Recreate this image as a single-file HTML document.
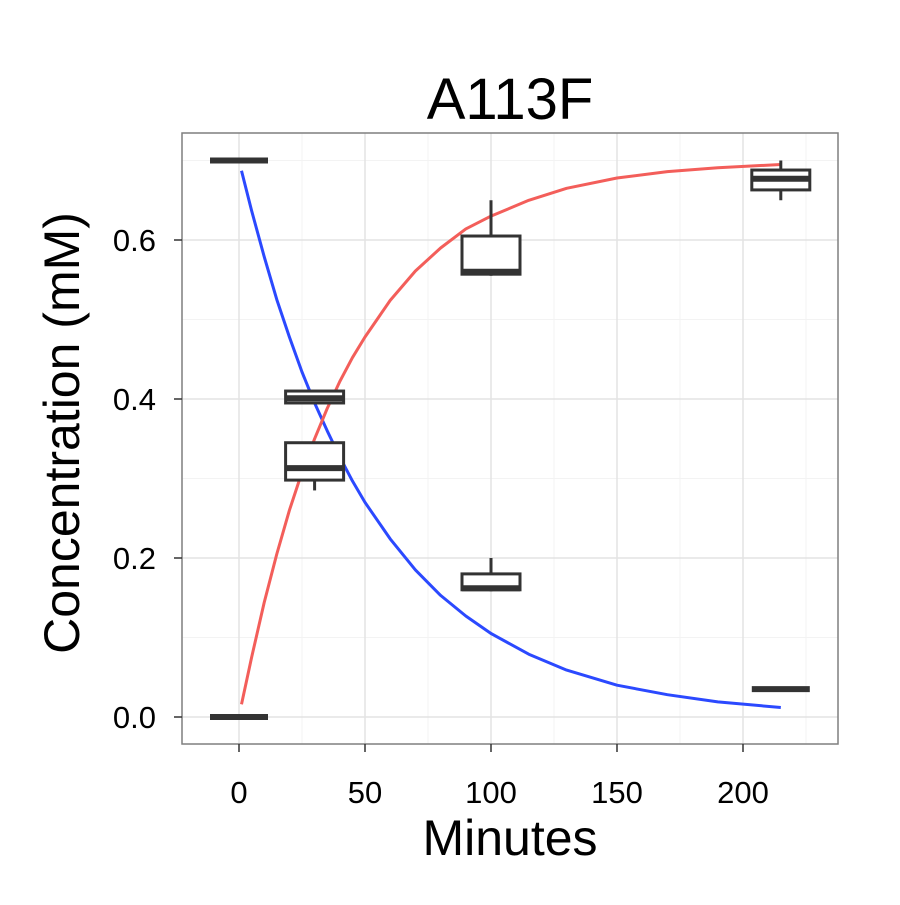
<!DOCTYPE html>
<html><head><meta charset="utf-8"><style>
body{margin:0;background:#fff}
svg text{font-family:"Liberation Sans",Arial,sans-serif;fill:#000}
</style></head><body>
<svg id="chart" width="900" height="900" viewBox="0 0 900 900" xmlns="http://www.w3.org/2000/svg">
<rect width="900" height="900" fill="#fff"/>
<g id="grid"></g>
<g id="curves"></g>
<g id="boxes"></g>
<rect x="182" y="133" width="656" height="611" fill="none" stroke="#7f7f7f" stroke-width="1.5"/>
<g id="axes"></g>
<text x="510" y="119" font-size="58" text-anchor="middle">A113F</text>
<text x="510" y="855" font-size="50" text-anchor="middle">Minutes</text>
<text transform="translate(79,433) rotate(-90)" font-size="50" text-anchor="middle">Concentration (mM)</text>
</svg>
<script>
const xTicks=[0,50,100,150,200];
const xMinor=[25,75,125,175,225];
const yTicks=[0,0.2,0.4,0.6];
const yTickLabels=["0.0","0.2","0.4","0.6"];
const yMinor=[0.1,0.3,0.5,0.7];
// boxes: time, lower whisker, q1, median, q3, upper whisker
const boxTimes=[0,0,30,30,100,100,215,215];
const boxLow=[0.7,0,0.395,0.285,0.555,0.158,0.65,0.035];
const boxQ1=[0.7,0,0.395,0.298,0.557,0.16,0.663,0.035];
const boxMed=[0.7,0,0.401,0.313,0.56,0.162,0.677,0.035];
const boxQ3=[0.7,0,0.41,0.345,0.605,0.18,0.688,0.035];
const boxHigh=[0.7,0,0.41,0.345,0.65,0.2,0.70,0.035];
const curveTimes=[1,5,10,15,20,25,30,35,40,45,50,60,70,80,90,100,115,130,150,170,190,215];
const decayValues=[0.687,0.637,0.579,0.525,0.478,0.434,0.395,0.360,0.327,0.297,0.270,0.224,0.185,0.153,0.127,0.105,0.079,0.059,0.040,0.028,0.019,0.012];
const growthValues=[0.016,0.075,0.144,0.205,0.260,0.308,0.350,0.388,0.422,0.452,0.478,0.524,0.561,0.590,0.614,0.630,0.650,0.665,0.678,0.686,0.691,0.695];
const ns="http://www.w3.org/2000/svg";
const X=t=>239+t*2.52, Y=v=>717-v*795;
function mk(tag,attrs,parent){const e=document.createElementNS(ns,tag);for(const k in attrs)e.setAttribute(k,attrs[k]);parent.appendChild(e);return e;}
const grid=document.getElementById('grid'),axes=document.getElementById('axes'),curves=document.getElementById('curves'),boxes=document.getElementById('boxes');
xMinor.forEach(t=>{const l=mk('line',{x1:X(t),x2:X(t),y1:133,y2:744,stroke:'#f3f3f3','stroke-width':1},grid);

});
yMinor.forEach(v=>{const l=mk('line',{x1:182,x2:838,y1:Y(v),y2:Y(v),stroke:'#f3f3f3','stroke-width':1},grid);

});
xTicks.forEach(t=>{const l=mk('line',{x1:X(t),x2:X(t),y1:133,y2:744,stroke:'#e3e3e3','stroke-width':1.5},grid);


const tk=mk('line',{x1:X(t),x2:X(t),y1:744,y2:752,stroke:'#333','stroke-width':1.5},axes);


const tx=mk('text',{x:X(t),y:803,'font-size':31,'text-anchor':'middle'},axes);tx.textContent=t;

});
yTicks.forEach((v,i)=>{const l=mk('line',{x1:182,x2:838,y1:Y(v),y2:Y(v),stroke:'#e3e3e3','stroke-width':1.5},grid);


const tk=mk('line',{x1:174,x2:182,y1:Y(v),y2:Y(v),stroke:'#333','stroke-width':1.5},axes);


const tx=mk('text',{x:156,y:Y(v)+11,'font-size':31,'text-anchor':'end'},axes);tx.textContent=yTickLabels[i];

});
function line(vals,color,name){const d=curveTimes.map((t,i)=>(i?'L':'M')+X(t).toFixed(1)+','+Y(vals[i]).toFixed(1)).join(' ');
const p=mk('path',{d:d,fill:'none',stroke:color,'stroke-width':3,'stroke-linejoin':'round'},curves);

}
line(decayValues,'#2b49ff','substrate-curve');
line(growthValues,'#f35e5a','product-curve');
boxTimes.forEach((t,i)=>{const g=mk('g',{},boxes);


const x0=X(t)-29,w=58,c=X(t);
mk('line',{x1:c,x2:c,y1:Y(boxLow[i]),y2:Y(boxQ1[i]),stroke:'#333','stroke-width':3},g);
mk('line',{x1:c,x2:c,y1:Y(boxQ3[i]),y2:Y(boxHigh[i]),stroke:'#333','stroke-width':3},g);
mk('rect',{x:x0,y:Y(boxQ3[i]),width:w,height:Math.max(0,Y(boxQ1[i])-Y(boxQ3[i])),fill:'#fff',stroke:'#333','stroke-width':3},g);
mk('line',{x1:x0,x2:x0+w,y1:Y(boxMed[i]),y2:Y(boxMed[i]),stroke:'#333','stroke-width':6},g);});
</script>
</body></html>
